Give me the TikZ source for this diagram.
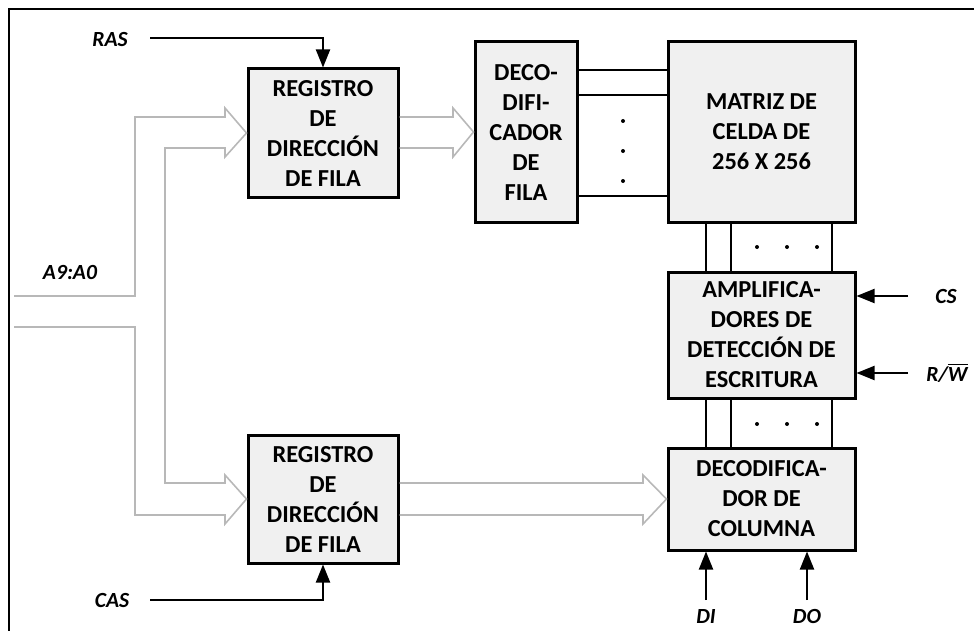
\documentclass[tikz,border=0pt]{standalone}
\usepackage{fontspec}
\setmainfont{Carlito}
\usetikzlibrary{arrows.meta, positioning, calc}

\begin{document}
\begin{tikzpicture}[x=0.5pt, y=-0.5pt,
  block/.style={draw, line width=1.5pt, fill=black!6, align=center, inner sep=0pt, font=\bfseries\fontsize{12.2}{15}\selectfont},
  sig/.style={font=\bfseries\itshape\fontsize{10.8}{12}\selectfont},
  wire/.style={line width=1pt, -{Triangle[length=9pt,width=7pt]}},
  link/.style={line width=0.9pt},
  bus/.style={draw=black!28, line width=0.8pt, line join=miter}
]
\useasboundingbox (0,0) rectangle (974,631);

% Frame
\draw[line width=1.2pt] (9,631) -- (9,9) -- (974,9);

% Blocks
\node[block, minimum width=75pt, minimum height=64pt] (rowreg) at (323,133) {REGISTRO\\DE\\DIRECCIÓN\\DE FILA};
\node[block, minimum width=75pt, minimum height=64pt] (colreg) at (323,499) {REGISTRO\\DE\\DIRECCIÓN\\DE FILA};
\node[block, minimum width=51pt, minimum height=90pt] (rowdec) at (526,132) {DECO-\\DIFI-\\CADOR\\DE\\FILA};
\node[block, minimum width=93.5pt, minimum height=90pt] (cells) at (761.5,132) {MATRIZ DE\\CELDA DE\\256 X 256};
\node[block, minimum width=93.5pt, minimum height=63pt] (amp) at (761.5,335) {AMPLIFICA-\\DORES DE\\DETECCIÓN DE\\ESCRITURA};
\node[block, minimum width=93.5pt, minimum height=51pt] (coldec) at (761.5,499) {DECODIFICA-\\DOR DE\\COLUMNA};

% Signal labels
\node[sig] (ras) at (110,40) {RAS};
\node[sig] (cas) at (112,600) {CAS};
\node[sig] (addr) at (70,272) {A9:A0};
\node[sig] (cs) at (946,296) {CS};
\node[sig] (rw) at (947,373) {R/$\overline{\mbox{W}}$};
\node[sig] (di) at (706,616) {DI};
\node[sig] (do) at (807,616) {DO};

% Address bus
\draw[bus] (14,296) -| (135,117) -- (225,117) -- (225,108) -- (rowreg.west) -- (225,157) -- (225,148)
  -| (165,483) -- (225,483) -- (225,475) -- (colreg.west) -- (225,524) -- (225,515) -| (135,327) -- (14,327);
\draw[bus] (rowreg.east |- 0,117) -- (453,117) -- (453,108) -- (rowdec.west) -- (453,157) -- (453,148) -- (rowreg.east |- 0,148);
\draw[bus] (colreg.east |- 0,483) -- (643,483) -- (643,475) -- (coldec.west) -- (643,524) -- (643,515) -- (colreg.east |- 0,515);

% Row lines
\foreach \y in {70,95,196}
  \draw[link] (rowdec.east |- 0,\y) -- (cells.west |- 0,\y);
\foreach \y in {121,151,181}
  \fill (623,\y) circle (1pt);

% Column lines
\foreach \x in {706,731,832} {
  \draw[link] (cells.south -| \x,0) -- (amp.north -| \x,0);
  \draw[link] (amp.south -| \x,0) -- (coldec.north -| \x,0);
}
\foreach \x in {757,787,817} {
  \fill (\x,247) circle (1pt);
  \fill (\x,424) circle (1pt);
}

% Control inputs
\coordinate (rasin) at (150,38);
\coordinate (casin) at (150,600);
\coordinate (csin) at (908,296);
\coordinate (rwin) at (908,373);
\coordinate (diin) at (706,600);
\coordinate (doin) at (807,600);
\draw[wire] (rasin) -| (rowreg.north);
\draw[wire] (casin) -| (colreg.south);
\draw[wire] (csin) -- (csin -| amp.east);
\draw[wire] (rwin) -- (rwin -| amp.east);
\draw[wire] (diin) -- (diin |- coldec.south);
\draw[wire] (doin) -- (doin |- coldec.south);

\end{tikzpicture}
\end{document}
